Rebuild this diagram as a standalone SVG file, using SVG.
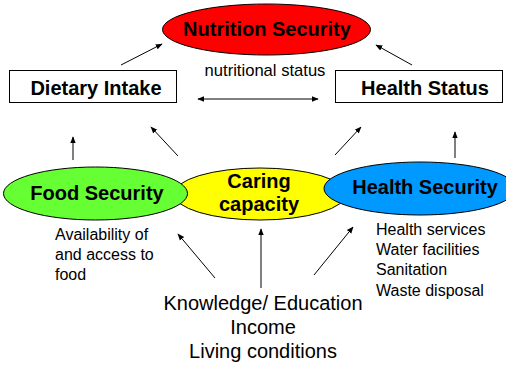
<svg xmlns="http://www.w3.org/2000/svg" width="506" height="366" viewBox="0 0 506 366">
<style>
.t{font-family:"Liberation Sans",Arial,sans-serif;fill:#000}
.b{font-weight:bold;font-size:20px;text-anchor:middle}
.r{font-size:16px}
.e{stroke:#000;stroke-width:1}
.c line{stroke:#000;stroke-width:1}
</style>
<defs>
<marker id="ah" viewBox="0 0 10 10" refX="9" refY="5" markerWidth="7" markerHeight="7" markerUnits="userSpaceOnUse" orient="auto-start-reverse">
<path d="M0,1 L10,5 L0,9 Z" fill="#000"/>
</marker>
</defs>
<rect width="506" height="366" fill="#fff"/>
<g id="nutrition-security">
<ellipse class="e" cx="266.5" cy="29.5" rx="104" ry="25.5" fill="#ff0000"/>
<text class="t b" x="267" y="36">Nutrition Security</text>
</g>
<g id="nutritional-status">
<text class="t" x="265" y="76" font-size="16.6" text-anchor="middle">nutritional status</text>
</g>
<g id="dietary-intake">
<rect class="e" x="9.5" y="70.5" width="167" height="32" fill="#fff"/>
<text class="t b" x="96" y="95">Dietary Intake</text>
</g>
<g id="health-status">
<rect class="e" x="335.5" y="70.5" width="167" height="32" fill="#fff"/>
<text class="t b" x="425" y="95">Health Status</text>
</g>
<g id="caring-capacity">
<ellipse class="e" cx="260" cy="194" rx="86" ry="26" fill="#ffff00"/>
<text class="t b" x="259" y="188">Caring</text>
<text class="t b" x="259" y="211">capacity</text>
</g>
<g id="food-security">
<ellipse class="e" cx="95.5" cy="193.5" rx="92" ry="26.5" fill="#66ff33"/>
<text class="t b" x="97" y="200">Food Security</text>
</g>
<g id="health-security">
<ellipse class="e" cx="420" cy="188.5" rx="96" ry="26.5" fill="#0099ff"/>
<text class="t b" x="425" y="194">Health Security</text>
</g>
<g id="food-notes">
<text class="t r" x="55" y="240">Availability of</text>
<text class="t r" x="55" y="260">and access to</text>
<text class="t r" x="55" y="280">food</text>
</g>
<g id="health-notes">
<text class="t r" x="376" y="235">Health services</text>
<text class="t r" x="376" y="255">Water facilities</text>
<text class="t r" x="376" y="275">Sanitation</text>
<text class="t r" x="376" y="296">Waste disposal</text>
</g>
<g id="underlying-causes">
<text class="t" x="263" y="310" font-size="20" text-anchor="middle">Knowledge/ Education</text>
<text class="t" x="263" y="334" font-size="20" text-anchor="middle">Income</text>
<text class="t" x="263" y="358" font-size="20" text-anchor="middle">Living conditions</text>
</g>
<g id="connectors" class="c">
<line x1="121" y1="65" x2="162" y2="44" marker-end="url(#ah)"/>
<line x1="412" y1="65" x2="376" y2="45" marker-end="url(#ah)"/>
<line x1="198" y1="99" x2="318" y2="99" marker-start="url(#ah)" marker-end="url(#ah)"/>
<line x1="73" y1="160" x2="73" y2="137" marker-end="url(#ah)"/>
<line x1="178" y1="156" x2="151" y2="127" marker-end="url(#ah)"/>
<line x1="335" y1="155" x2="361" y2="127" marker-end="url(#ah)"/>
<line x1="455" y1="158" x2="455" y2="132" marker-end="url(#ah)"/>
<line x1="215" y1="278" x2="178" y2="234" marker-end="url(#ah)"/>
<line x1="261" y1="288" x2="261" y2="229" marker-end="url(#ah)"/>
<line x1="314" y1="275" x2="353" y2="227" marker-end="url(#ah)"/>
</g>
</svg>
